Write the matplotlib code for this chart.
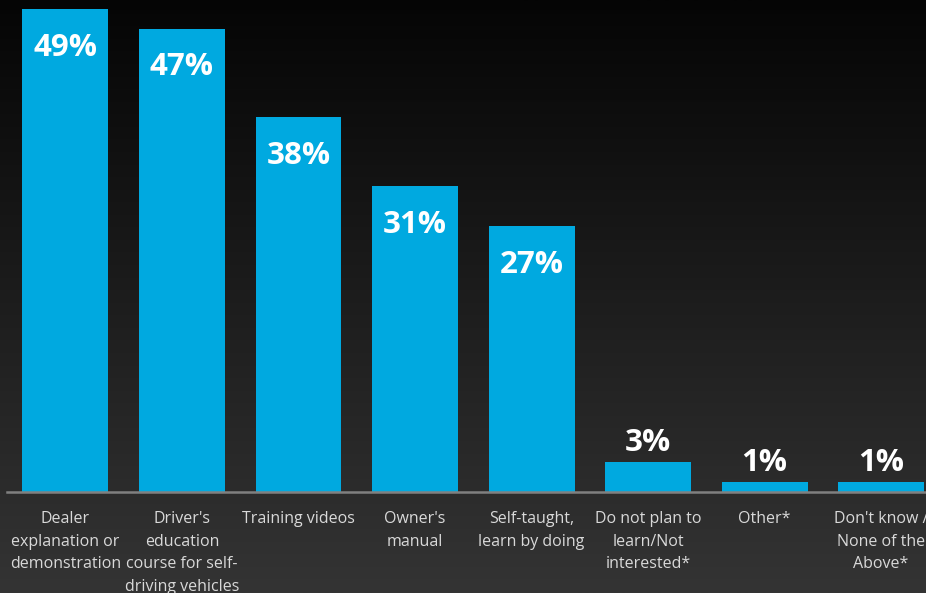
import numpy as np
import matplotlib
matplotlib.use("Agg")
import matplotlib.pyplot as plt
from matplotlib.colors import LinearSegmentedColormap

categories = [
    "Dealer\nexplanation or\ndemonstration",
    "Driver's\neducation\ncourse for self-\ndriving vehicles",
    "Training videos",
    "Owner's\nmanual",
    "Self-taught,\nlearn by doing",
    "Do not plan to\nlearn/Not\ninterested*",
    "Other*",
    "Don't know /\nNone of the\nAbove*",
]
values = [49, 47, 38, 31, 27, 3, 1, 1]
value_labels = ["49%", "47%", "38%", "31%", "27%", "3%", "1%", "1%"]

W, H, DPI = 926, 593, 100
fig = plt.figure(figsize=(W / DPI, H / DPI), dpi=DPI)

# vertical background gradient, near-black at top to dark grey at bottom
bg = fig.add_axes([0, 0, 1, 1])
grad = np.linspace(0, 1, 256).reshape(-1, 1)
cmap = LinearSegmentedColormap.from_list("bg", ["#050505", "#343434"])
bg.imshow(grad, aspect="auto", cmap=cmap, extent=[0, 1, 0, 1], origin="upper")
bg.set_axis_off()

base_px = 492
ax = fig.add_axes([7 / W, 1 - base_px / H, 1 - 7 / W, base_px / H])
ax.patch.set_alpha(0)
x = np.arange(len(categories))
bars = ax.bar(x, values, width=0.738, color="#00A9E0", zorder=2)
ax.set_xlim(-0.502, 7.386)
ax.set_ylim(0, 49.9)
for s in ["top", "right", "left"]:
    ax.spines[s].set_visible(False)
ax.spines["bottom"].set_color("#808080")
ax.spines["bottom"].set_linewidth(1.8)
ax.set_yticks([])
ax.set_xticks([])

font = "Open Sans"
for xi, v, lab in zip(x, values, value_labels):
    if v >= 10:
        ax.annotate(lab, (xi, v), xytext=(0, -28), textcoords="offset points",
                    ha="center", va="center", color="white", fontsize=22.5,
                    fontweight="bold", family=font, zorder=3)
    else:
        ax.annotate(lab, (xi, v), xytext=(0, 3), textcoords="offset points",
                    ha="center", va="bottom", color="white", fontsize=22.5,
                    fontweight="bold", family=font, zorder=3)

for xi, cat in zip(x, categories):
    ax.annotate(cat, (xi, 0), xytext=(0, -13.5), textcoords="offset points",
                ha="center", va="top", color="#d9d9d9", fontsize=11.5,
                family=font, linespacing=1.57, annotation_clip=False)

fig.savefig("out.png", dpi=DPI)
